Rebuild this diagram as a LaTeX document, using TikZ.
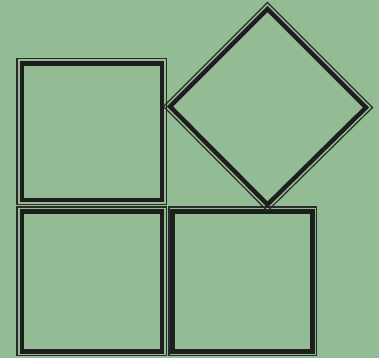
\documentclass[tikz,border=0pt]{standalone}
\begin{document}
\begin{tikzpicture}[x=1pt,y=-1pt,
  thinedge/.style={draw={rgb,255:red,40;green,44;blue,40}, line width=1.2pt, line join=miter},
  thickedge/.style={draw={rgb,255:red,30;green,30;blue,30}, line width=4.4pt, line join=miter}]
\definecolor{bg}{RGB}{148,188,148}
\fill[bg] (0,0) rectangle (379,358);
\useasboundingbox (0,0) rectangle (379,358);
% top-left square
\draw[thinedge] (17,58.5) rectangle (166.5,204.5);
\draw[thickedge] (22,63.5) rectangle (162,200);
% bottom-left square
\draw[thinedge] (17,207) rectangle (166.5,355.5);
\draw[thickedge] (22,211.5) rectangle (162,351.5);
% bottom-right square
\draw[thinedge] (169,207) rectangle (316.5,355.5);
\draw[thickedge] (172.5,211.5) rectangle (312.5,351.5);
% diamond
\draw[thinedge] (267.5,2.5) -- (372.5,107.5) -- (267.5,211) -- (163.5,106.5) -- cycle;
\draw[thickedge] (267.5,9) -- (366,107.5) -- (267.5,204.5) -- (170,106.5) -- cycle;
\end{tikzpicture}
\end{document}
